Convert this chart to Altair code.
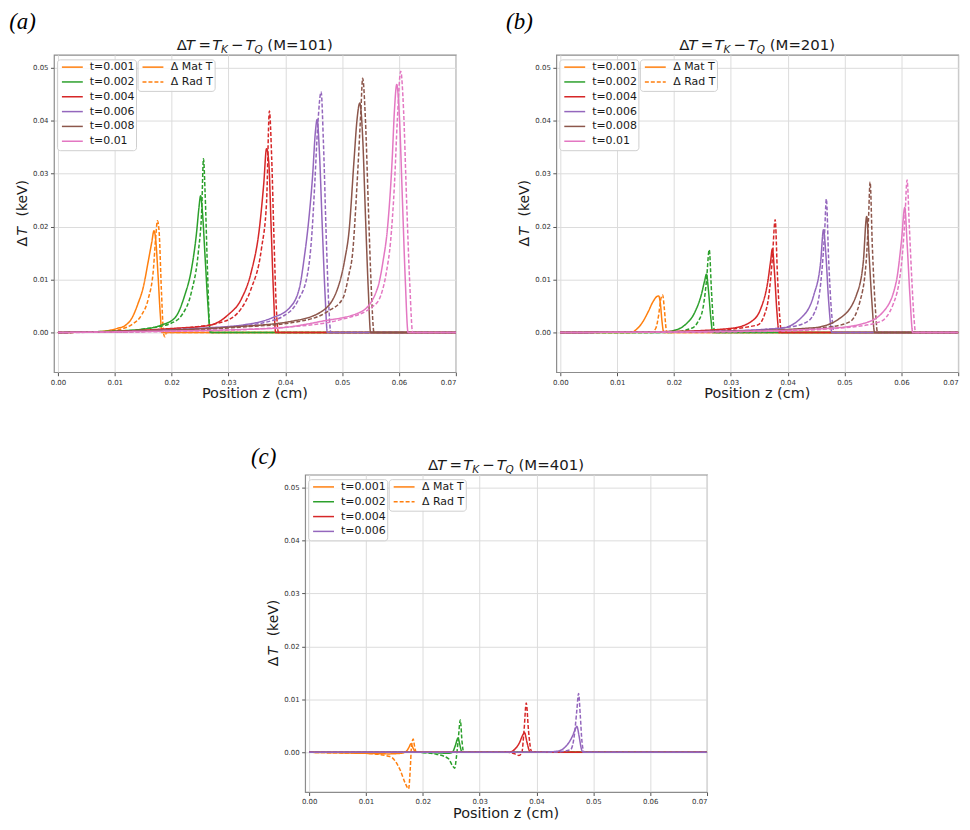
import altair as alt
import pandas as pd

# ---------------- labels ----------------
TIME_LABELS = ["t=0.001", "t=0.002", "t=0.004", "t=0.006", "t=0.008", "t=0.01"]
TIME_COLORS = ["#ff7f0e", "#2ca02c", "#d62728", "#9467bd", "#8c564b", "#e377c2"]
KIND_LABELS = ["Δ Mat T", "Δ Rad T"]
X_TICKS = [0.00, 0.01, 0.02, 0.03, 0.04, 0.05, 0.06, 0.07]
Y_TICKS = [0.00, 0.01, 0.02, 0.03, 0.04, 0.05]
PANEL_M = ["101", "201", "401"]
PANEL_LETTERS = ["(a)", "(b)", "(c)"]
X_TITLE = "Position z (cm)"

# ---------------- panel (a): M=101  (z [cm], dT [keV]) ----------------
a_001_mat = [(0.0, 0.0), (0.006, 0.0001), (0.009, 0.0004), (0.0105, 0.0008), (0.0118, 0.0013), (0.013, 0.0027),
             (0.0141, 0.0055), (0.015, 0.0085), (0.0159, 0.0135), (0.0165, 0.0170), (0.0169, 0.0192),
             (0.0172, 0.0175), (0.0176, 0.0110), (0.018, 0.0035), (0.0183, 0.0), (0.07, 0.0)]
a_001_rad = [(0.0, 0.0), (0.008, 0.0001), (0.011, 0.0006), (0.013, 0.0015), (0.0147, 0.0033), (0.0159, 0.0064),
             (0.0168, 0.0120), (0.0172, 0.0180), (0.0175, 0.0211), (0.0178, 0.0190), (0.0182, 0.0080),
             (0.0186, -0.0003), (0.0188, -0.0008), (0.0191, 0.0), (0.07, 0.0)]
a_002_mat = [(0.0, 0.0), (0.008, 0.0002), (0.0147, 0.0006), (0.0182, 0.0014), (0.0206, 0.0028), (0.0223, 0.0070),
             (0.0235, 0.0120), (0.0244, 0.0190), (0.0248, 0.0235), (0.0251, 0.0258), (0.0254, 0.0230),
             (0.0259, 0.0140), (0.0264, 0.0050), (0.0268, 0.0), (0.07, 0.0)]
a_002_rad = [(0.0, 0.0), (0.010, 0.0002), (0.016, 0.0008), (0.020, 0.0018), (0.0218, 0.0033), (0.0235, 0.0077),
             (0.0247, 0.0152), (0.0253, 0.0233), (0.0256, 0.0328), (0.0259, 0.0260), (0.0263, 0.0120),
             (0.0267, 0.0010), (0.027, 0.0), (0.07, 0.0)]
a_004_mat = [(0.0, 0.0), (0.010, 0.0002), (0.0206, 0.0008), (0.0264, 0.0013), (0.0299, 0.0033), (0.0323, 0.0064),
             (0.034, 0.0114), (0.0355, 0.0202), (0.0362, 0.0280), (0.0367, 0.0347), (0.0371, 0.0320),
             (0.0375, 0.0200), (0.0379, 0.0080), (0.0383, 0.0), (0.07, 0.0)]
a_004_rad = [(0.0, 0.0), (0.012, 0.0002), (0.022, 0.0008), (0.029, 0.0020), (0.0323, 0.0046), (0.034, 0.0083),
             (0.0358, 0.0158), (0.0367, 0.0246), (0.0372, 0.0418), (0.0376, 0.0330), (0.038, 0.0180),
             (0.0384, 0.0050), (0.0388, 0.0), (0.07, 0.0)]
a_006_mat = [(0.0, 0.0), (0.015, 0.0003), (0.025, 0.0008), (0.033, 0.0015), (0.0375, 0.0027), (0.0407, 0.0046),
             (0.0425, 0.0085), (0.0433, 0.0139), (0.0441, 0.0210), (0.0448, 0.0296), (0.0453, 0.0380),
             (0.0456, 0.0402), (0.046, 0.0340), (0.0465, 0.0200), (0.047, 0.0070), (0.0474, 0.0), (0.07, 0.0)]
a_006_rad = [(0.0, 0.0), (0.018, 0.0003), (0.030, 0.0010), (0.0375, 0.0022), (0.0395, 0.0030), (0.0422, 0.0060),
             (0.0439, 0.0110), (0.0447, 0.0190), (0.0452, 0.0285), (0.0457, 0.0390), (0.0463, 0.0454),
             (0.0467, 0.0360), (0.0472, 0.0180), (0.0477, 0.0040), (0.048, 0.0), (0.07, 0.0)]
a_008_mat = [(0.0, 0.0), (0.015, 0.0003), (0.030, 0.0010), (0.041, 0.0021), (0.0463, 0.0039), (0.0492, 0.0083),
             (0.0505, 0.0140), (0.0512, 0.0190), (0.0521, 0.0327), (0.0526, 0.0400), (0.0531, 0.0433),
             (0.0536, 0.0370), (0.0541, 0.0220), (0.0546, 0.0080), (0.055, 0.0), (0.07, 0.0)]
a_008_rad = [(0.0, 0.0), (0.018, 0.0003), (0.032, 0.0010), (0.042, 0.0020), (0.0475, 0.0040), (0.0501, 0.0064),
             (0.0512, 0.0110), (0.0518, 0.0146), (0.0527, 0.0296), (0.0533, 0.0420), (0.0536, 0.0480),
             (0.0541, 0.0400), (0.0546, 0.0240), (0.0551, 0.0090), (0.0556, 0.0), (0.07, 0.0)]
a_01_mat = [(0.0, 0.0), (0.015, 0.0002), (0.0381, 0.0008), (0.0463, 0.0021), (0.0533, 0.0039), (0.0562, 0.0083),
            (0.0572, 0.0135), (0.058, 0.0200), (0.0588, 0.0327), (0.0592, 0.0420), (0.0596, 0.0468),
            (0.0601, 0.0400), (0.0606, 0.0250), (0.0611, 0.0100), (0.0616, 0.0), (0.07, 0.0)]
a_01_rad = [(0.0, 0.0), (0.020, 0.0002), (0.040, 0.0010), (0.050, 0.0025), (0.0555, 0.0050), (0.0568, 0.0070),
            (0.0578, 0.0115), (0.0585, 0.0170), (0.0592, 0.0280), (0.0597, 0.0400), (0.0603, 0.0493),
            (0.0608, 0.0420), (0.0613, 0.0260), (0.0619, 0.0090), (0.0624, 0.0), (0.07, 0.0)]

# ---------------- panel (b): M=201 ----------------
b_001_mat = [(0.0, 0.0), (0.0125, 0.0), (0.0135, 0.0007), (0.0145, 0.0020), (0.0155, 0.0040), (0.0163, 0.0058),
             (0.017, 0.0068), (0.0173, 0.0069), (0.0176, 0.0055), (0.0179, 0.0020), (0.0182, 0.0), (0.07, 0.0)]
b_001_rad = [(0.0, 0.0), (0.016, 0.0), (0.0168, 0.0008), (0.0173, 0.0033), (0.0177, 0.0064), (0.018, 0.0071),
             (0.0183, 0.0045), (0.0186, 0.0008), (0.0188, 0.0), (0.07, 0.0)]
b_002_mat = [(0.0, 0.0), (0.017, 0.0), (0.0196, 0.0003), (0.0219, 0.0014), (0.0237, 0.0039), (0.0248, 0.0071),
             (0.0254, 0.0098), (0.0257, 0.0110), (0.0261, 0.0075), (0.0265, 0.0025), (0.0268, 0.0), (0.07, 0.0)]
b_002_rad = [(0.0, 0.0), (0.019, 0.0), (0.0231, 0.0008), (0.0242, 0.0020), (0.0251, 0.0046), (0.0257, 0.0096),
             (0.0262, 0.0156), (0.0266, 0.0077), (0.027, 0.0010), (0.0272, 0.0), (0.07, 0.0)]
b_004_mat = [(0.0, 0.0), (0.020, 0.0002), (0.0301, 0.0008), (0.0335, 0.0020), (0.0353, 0.0046), (0.0365, 0.0096),
             (0.037, 0.0135), (0.0373, 0.0158), (0.0377, 0.0110), (0.0381, 0.0040), (0.0385, 0.0), (0.07, 0.0)]
b_004_rad = [(0.0, 0.0), (0.024, 0.0002), (0.0347, 0.0014), (0.0359, 0.0033), (0.0367, 0.0071), (0.0373, 0.0139),
             (0.0378, 0.0213), (0.0382, 0.0108), (0.0386, 0.0030), (0.0389, 0.0), (0.07, 0.0)]
b_006_mat = [(0.0, 0.0), (0.025, 0.0002), (0.0388, 0.0008), (0.0423, 0.0027), (0.0446, 0.0071), (0.0458, 0.0133),
             (0.0463, 0.0194), (0.0467, 0.0150), (0.0472, 0.0060), (0.0478, 0.0), (0.07, 0.0)]
b_006_rad = [(0.0, 0.0), (0.028, 0.0002), (0.040, 0.0010), (0.0434, 0.0020), (0.0452, 0.0052), (0.046, 0.0114),
             (0.0465, 0.0190), (0.0468, 0.0252), (0.0472, 0.0139), (0.0477, 0.0040), (0.0482, 0.0), (0.07, 0.0)]
b_008_mat = [(0.0, 0.0), (0.028, 0.0002), (0.0446, 0.0009), (0.0492, 0.0027), (0.0521, 0.0071), (0.0533, 0.0133),
             (0.0539, 0.0219), (0.0543, 0.0150), (0.0548, 0.0060), (0.0553, 0.0), (0.07, 0.0)]
b_008_rad = [(0.0, 0.0), (0.032, 0.0002), (0.047, 0.0010), (0.0509, 0.0020), (0.0527, 0.0058), (0.0538, 0.0133),
             (0.0542, 0.0210), (0.0545, 0.0284), (0.0549, 0.0160), (0.0554, 0.0050), (0.0558, 0.0), (0.07, 0.0)]
b_01_mat = [(0.0, 0.0), (0.030, 0.0002), (0.0475, 0.0008), (0.0533, 0.0017), (0.0568, 0.0039), (0.0591, 0.0096),
            (0.060, 0.0171), (0.0606, 0.0236), (0.061, 0.0170), (0.0615, 0.0070), (0.062, 0.0), (0.07, 0.0)]
b_01_rad = [(0.0, 0.0), (0.035, 0.0002), (0.050, 0.0009), (0.0562, 0.0020), (0.0585, 0.0052), (0.060, 0.0127),
            (0.0606, 0.0210), (0.061, 0.0288), (0.0614, 0.0200), (0.0618, 0.0108), (0.0622, 0.0030),
            (0.0625, 0.0), (0.07, 0.0)]

# ---------------- panel (c): M=401 ----------------
c_001_mat = [(0.0, 0.0), (0.005, -0.0001), (0.010, -0.0002), (0.014, -0.0003), (0.016, -0.0002), (0.017, 0.0001),
             (0.0176, 0.0010), (0.0179, 0.0016), (0.0182, 0.0010), (0.0186, 0.0002), (0.019, 0.0), (0.07, 0.0)]
c_001_rad = [(0.0, 0.0), (0.005, -0.0001), (0.010, -0.0002), (0.0142, -0.0008), (0.016, -0.0033),
             (0.0169, -0.0058), (0.0175, -0.0069), (0.0178, -0.0030), (0.018, 0.0010), (0.0183, 0.0025),
             (0.0186, 0.0008), (0.0189, 0.0), (0.07, 0.0)]
c_002_mat = [(0.0, 0.0), (0.018, 0.0), (0.0225, -0.0001), (0.0245, -0.0002), (0.0252, 0.0), (0.0257, 0.0012),
             (0.0262, 0.0027), (0.0265, 0.0015), (0.0268, 0.0002), (0.027, 0.0), (0.07, 0.0)]
c_002_rad = [(0.0, 0.0), (0.019, 0.0), (0.0225, -0.0004), (0.0245, -0.0012), (0.0252, -0.0025), (0.0256, -0.0030),
             (0.0259, -0.0010), (0.0262, 0.0020), (0.0266, 0.0061), (0.0269, 0.0020), (0.0272, 0.0), (0.07, 0.0)]
c_004_mat = [(0.0, 0.0), (0.033, 0.0), (0.0355, 0.0001), (0.0362, 0.0006), (0.037, 0.0018), (0.0376, 0.0033),
             (0.0379, 0.0037), (0.0383, 0.0020), (0.0387, 0.0004), (0.0389, 0.0), (0.07, 0.0)]
c_004_rad = [(0.0, 0.0), (0.035, 0.0), (0.0362, -0.0003), (0.0369, -0.0006), (0.0374, -0.0002), (0.0378, 0.0040),
             (0.0382, 0.0093), (0.0386, 0.0040), (0.039, 0.0005), (0.0392, 0.0), (0.07, 0.0)]
c_006_mat = [(0.0, 0.0), (0.040, 0.0), (0.0436, 0.0002), (0.0454, 0.0014), (0.0463, 0.0030), (0.0468, 0.0043),
             (0.0471, 0.0049), (0.0475, 0.0030), (0.0479, 0.0006), (0.0482, 0.0), (0.07, 0.0)]
c_006_rad = [(0.0, 0.0), (0.043, 0.0), (0.046, 0.0005), (0.0467, 0.0036), (0.0471, 0.0080), (0.0474, 0.0111),
             (0.0477, 0.0070), (0.048, 0.0020), (0.0484, 0.0), (0.07, 0.0)]

CURVES_A = [a_001_mat, a_001_rad, a_002_mat, a_002_rad, a_004_mat, a_004_rad,
            a_006_mat, a_006_rad, a_008_mat, a_008_rad, a_01_mat, a_01_rad]
CURVES_B = [b_001_mat, b_001_rad, b_002_mat, b_002_rad, b_004_mat, b_004_rad,
            b_006_mat, b_006_rad, b_008_mat, b_008_rad, b_01_mat, b_01_rad]
CURVES_C = [c_001_mat, c_001_rad, c_002_mat, c_002_rad, c_004_mat, c_004_rad, c_006_mat, c_006_rad]

# ---------------- layout constants ----------------
W, H = 404, 319
XDOM = [-0.0007, 0.07]
YDOM = [-0.0075, 0.0524]
FONT = "DejaVu Sans"
ONE = pd.DataFrame({"k": [0]})


def build_df(curves, times):
    rows = []
    for j, pts in enumerate(curves):
        t = times[j // 2]
        kind = KIND_LABELS[j % 2]
        for i, (z, d) in enumerate(pts):
            rows.append({"z": z, "dT": d, "t": t, "kind": kind, "i": i})
    return pd.DataFrame(rows)


def txt(s, x, y, size, italic=False, angle=0, align="left", baseline="alphabetic",
        font=FONT, color="#1a1a1a"):
    kw = dict(text=s, fontSize=size, font=font, align=align, baseline=baseline, color=color)
    if italic:
        kw["fontStyle"] = "italic"
    if angle:
        kw["angle"] = angle
    return alt.Chart(ONE).mark_text(**kw).encode(x=alt.value(x), y=alt.value(y))


def panel(curves, times, letter, letter_dx, letter_base, m_label, xtitle_dy):
    df = build_df(curves, times)
    cscale = alt.Scale(domain=times, range=TIME_COLORS[:len(times)])
    lines = alt.Chart(df).mark_line(strokeWidth=1.5, interpolate="monotone").encode(
        x=alt.X("z:Q", scale=alt.Scale(domain=XDOM, nice=False, zero=False),
                axis=alt.Axis(values=X_TICKS, format=".2f", title=None)),
        y=alt.Y("dT:Q", scale=alt.Scale(domain=YDOM, nice=False, zero=False),
                axis=alt.Axis(values=Y_TICKS, format=".2f", title=None)),
        color=alt.Color("t:N", scale=cscale, legend=None),
        strokeDash=alt.StrokeDash("kind:N", scale=alt.Scale(domain=KIND_LABELS, range=[[1, 0], [4, 2]]),
                                  legend=None),
        order=alt.Order("i:Q"),
    )
    layers = [lines]

    # legends (matplotlib-like boxes)
    n = len(times)
    row0, dy = 12.3, 14.9
    layers.append(alt.Chart(ONE).mark_rect(fill="white", fillOpacity=0.8, stroke="#cfcfcf", strokeWidth=1,
                                           cornerRadius=3).encode(
        x=alt.value(3.5), x2=alt.value(83), y=alt.value(5), y2=alt.value(row0 + dy * (n - 1) + 9.5)))
    layers.append(alt.Chart(ONE).mark_rect(fill="white", fillOpacity=0.8, stroke="#cfcfcf", strokeWidth=1,
                                           cornerRadius=3).encode(
        x=alt.value(84.5), x2=alt.value(162), y=alt.value(5), y2=alt.value(row0 + dy + 9.5)))
    for i, lab in enumerate(times):
        yy = row0 + dy * i
        layers.append(alt.Chart(ONE).mark_rule(strokeWidth=1.5, color=TIME_COLORS[i]).encode(
            x=alt.value(8), x2=alt.value(29), y=alt.value(yy)))
        layers.append(txt(lab, 36, yy, 11, baseline="middle"))
    for i, lab in enumerate(KIND_LABELS):
        yy = row0 + dy * i
        kw = dict(strokeWidth=1.5, color=TIME_COLORS[0])
        if i == 1:
            kw["strokeDash"] = [4, 2]
        layers.append(alt.Chart(ONE).mark_rule(**kw).encode(
            x=alt.value(89), x2=alt.value(110), y=alt.value(yy)))
        layers.append(txt(lab, 117.5, yy, 11, baseline="middle"))

    # title  ΔT = T_K − T_Q (M=...)
    cx = W / 2
    tb = -5
    pieces = [("Δ", -78.5, False, 15, 0), ("T", -69.5, True, 15, 0), ("=", -56.8, False, 15, 0),
              ("T", -43.0, True, 15, 0), ("K", -34.0, True, 10.5, 3), ("−", -24.0, False, 15, 0),
              ("T", -9.5, True, 15, 0), ("Q", -0.5, True, 10.5, 3), ("(M=" + m_label + ")", 12.5, False, 15, 0)]
    for s, off, it, sz, sub in pieces:
        layers.append(txt(s, cx + off, tb + sub, sz, italic=it))

    # y-axis title  ΔT  (keV)
    cy = H / 2
    for s, off, it in [("Δ", 33, False), ("T", 22, True), ("(keV)", 3, False)]:
        layers.append(txt(s, -27, cy + off, 14, italic=it, angle=270))

    # x-axis title
    layers.append(txt(X_TITLE, cx, H + xtitle_dy, 14.5, align="center"))

    # panel letter
    layers.append(txt(letter, letter_dx, letter_base, 23, italic=True, font="Liberation Serif", color="#000"))

    return alt.layer(*layers).properties(width=W, height=H)


pa = panel(CURVES_A, TIME_LABELS, PANEL_LETTERS[0], -45, -26, PANEL_M[0], 26)
pb = panel(CURVES_B, TIME_LABELS, PANEL_LETTERS[1], -50.5, -26, PANEL_M[1], 26)
pc = panel(CURVES_C, TIME_LABELS[:4], PANEL_LETTERS[2], -54.5, -11, PANEL_M[2], 26)

row1 = alt.hconcat(pa, pb, spacing=101, bounds="flush")
chart = alt.vconcat(row1, pc, spacing=43, center=True).properties(padding=0)
chart = chart.configure_view(stroke="#8c8c8c", strokeWidth=1.2).configure_axis(
    domain=False, grid=True, gridColor="#dcdcdc", gridWidth=1, tickColor="#555555", tickSize=3.5,
    labelFontSize=7, labelColor="#333333", labelFont=FONT, labelPadding=2.5,
)

chart.save("out.html", embed_options={"renderer": "svg", "actions": False})
